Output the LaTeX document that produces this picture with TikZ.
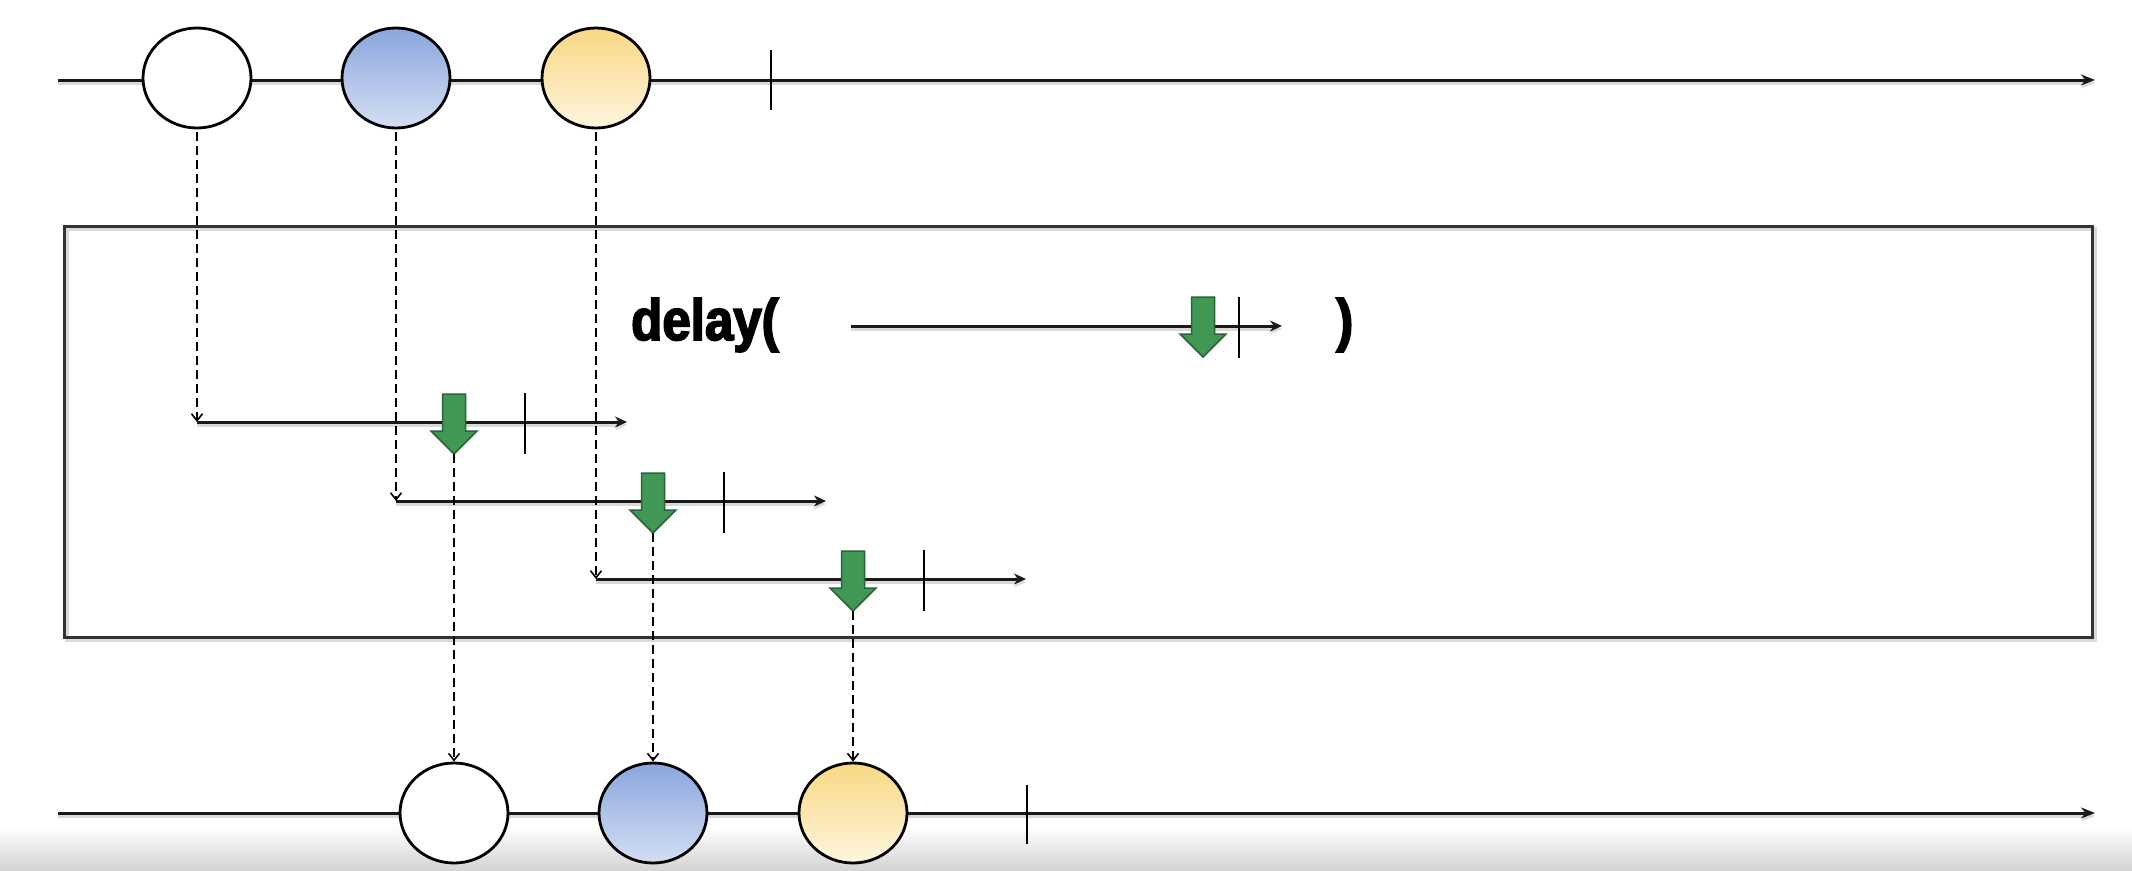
\documentclass[tikz,border=0pt]{standalone}
\usepackage{fontspec}
\setmainfont{Liberation Sans}
\newfontfamily\delayfont[FakeStretch=0.88,FakeBold=3]{Liberation Sans}
\usetikzlibrary{arrows.meta,shapes.geometric}
\definecolor{bluetop}{RGB}{138,166,222}
\definecolor{bluebot}{RGB}{212,222,243}
\definecolor{yeltop}{RGB}{249,216,132}
\definecolor{yelbot}{RGB}{253,245,222}
\definecolor{arrowgreen}{RGB}{64,152,84}
\definecolor{arrowgreendark}{RGB}{40,100,55}
\definecolor{inkline}{RGB}{25,25,25}
\tikzset{
  mainline/.style={line width=3pt, draw=inkline, -{Stealth[length=14pt,width=11pt]},
    preaction={draw=black!15, line width=4pt, transform canvas={yshift=-3pt}}},
  innerline/.style={line width=3pt, draw=inkline, -{Stealth[length=12pt,width=11pt]},
    preaction={draw=black!15, line width=4pt, transform canvas={yshift=-3pt}}},
  ticklinestyle/.style={line width=2pt, draw=black},
  eventball/.style={ellipse, draw=black, line width=2.8pt, minimum width=108pt, minimum height=100pt, inner sep=0pt},
  whiteball/.style={eventball, fill=white},
  blueball/.style={eventball, top color=bluetop, bottom color=bluebot},
  yellowball/.style={eventball, top color=yeltop, bottom color=yelbot},
  dashedarrow/.style={line width=1.8pt, draw=black, dash pattern=on 9pt off 5pt,
    -{Straight Barb[length=7pt,width=11pt,line width=1.6pt]}},
  greenshape/.style={fill=arrowgreen, draw=arrowgreendark, line width=1.5pt, line join=miter},
  operatorbox/.style={line width=3pt, draw=black!80,
    preaction={draw=black!15, line width=4pt, transform canvas={shift={(3pt,-3pt)}}}},
  delaytext/.style={inner sep=0pt, font=\delayfont\bfseries\fontsize{58}{60}\selectfont}
}
% #1 name of tip coordinate, #2 centre x, #3 top y
\newcommand\greenarrow[3]{%
  \filldraw[greenshape] (#2-11.5,#3) -- (#2+11.5,#3) -- (#2+11.5,#3+37) -- (#2+23,#3+37)
    -- (#2,#3+60) -- (#2-23,#3+37) -- (#2-11.5,#3+37) -- cycle;
  \coordinate (#1) at (#2,#3+60);}
% #1 row name, #2 start x, #3 line y
\newcommand\innerrow[3]{%
  \coordinate (#1s) at (#2,#3);
  \coordinate (#1e) at (#2+430,#3);
  \coordinate (#1ta) at (#2+328,#3-29);
  \coordinate (#1tb) at (#2+328,#3+32);
  \draw[innerline] (#1s) -- (#1e);
  \draw[ticklinestyle] (#1ta) -- (#1tb);
  \greenarrow{#1g}{#2+257}{#3-28}}
\begin{document}
\begin{tikzpicture}[x=1pt,y=-1pt]
\useasboundingbox (0,0) rectangle (2132,870);
% bottom grey band of the screenshot
\shade[top color=white, bottom color=black!17] (0,826) rectangle (2132,870);

% operator box
\coordinate (boxa) at (64,226);
\coordinate (boxb) at (2092,637);
\draw[operatorbox] (boxa) rectangle (boxb);

% delay( ---> )
\node[delaytext, anchor=base west] (delayopen) at (631,340) {delay(};
\node[delaytext, anchor=base west] (delayclose) at (1336,340) {)};
\coordinate (ds) at (851,326);
\coordinate (de) at (1282,326);
\coordinate (dta) at (1239,297);
\coordinate (dtb) at (1239,358);
\draw[innerline] (ds) -- (de);
\greenarrow{dg}{1203}{297}
\draw[ticklinestyle] (dta) -- (dtb);

% inner rows
\innerrow{ra}{197}{422}
\innerrow{rb}{396}{501}
\innerrow{rc}{596}{579}

% top timeline
\coordinate (topstart) at (58,80);
\coordinate (topend) at (2095,80);
\draw[mainline] (topstart) -- (topend);
\coordinate (toptka) at (771,50);
\coordinate (toptkb) at (771,110);
\draw[ticklinestyle] (toptka) -- (toptkb);
\node[whiteball] (t1) at (197,78) {};
\node[blueball] (t2) at (396,78) {};
\node[yellowball] (t3) at (596,78) {};

% bottom timeline
\coordinate (botstart) at (58,813);
\coordinate (botend) at (2095,813);
\draw[mainline] (botstart) -- (botend);
\coordinate (bottka) at (1027,785);
\coordinate (bottkb) at (1027,844);
\draw[ticklinestyle] (bottka) -- (bottkb);
\node[whiteball] (b1) at (454,813) {};
\node[blueball] (b2) at (653,813) {};
\node[yellowball] (b3) at (853,813) {};

% dashed connectors
\draw[dashedarrow] ([yshift=-3pt]t1.south) -- (ras);
\draw[dashedarrow] ([yshift=-3pt]t2.south) -- (rbs);
\draw[dashedarrow] ([yshift=-3pt]t3.south) -- (rcs);
\draw[dashedarrow] (rag) -- (b1.north);
\draw[dashedarrow] (rbg) -- (b2.north);
\draw[dashedarrow] (rcg) -- (b3.north);
\end{tikzpicture}
\end{document}
